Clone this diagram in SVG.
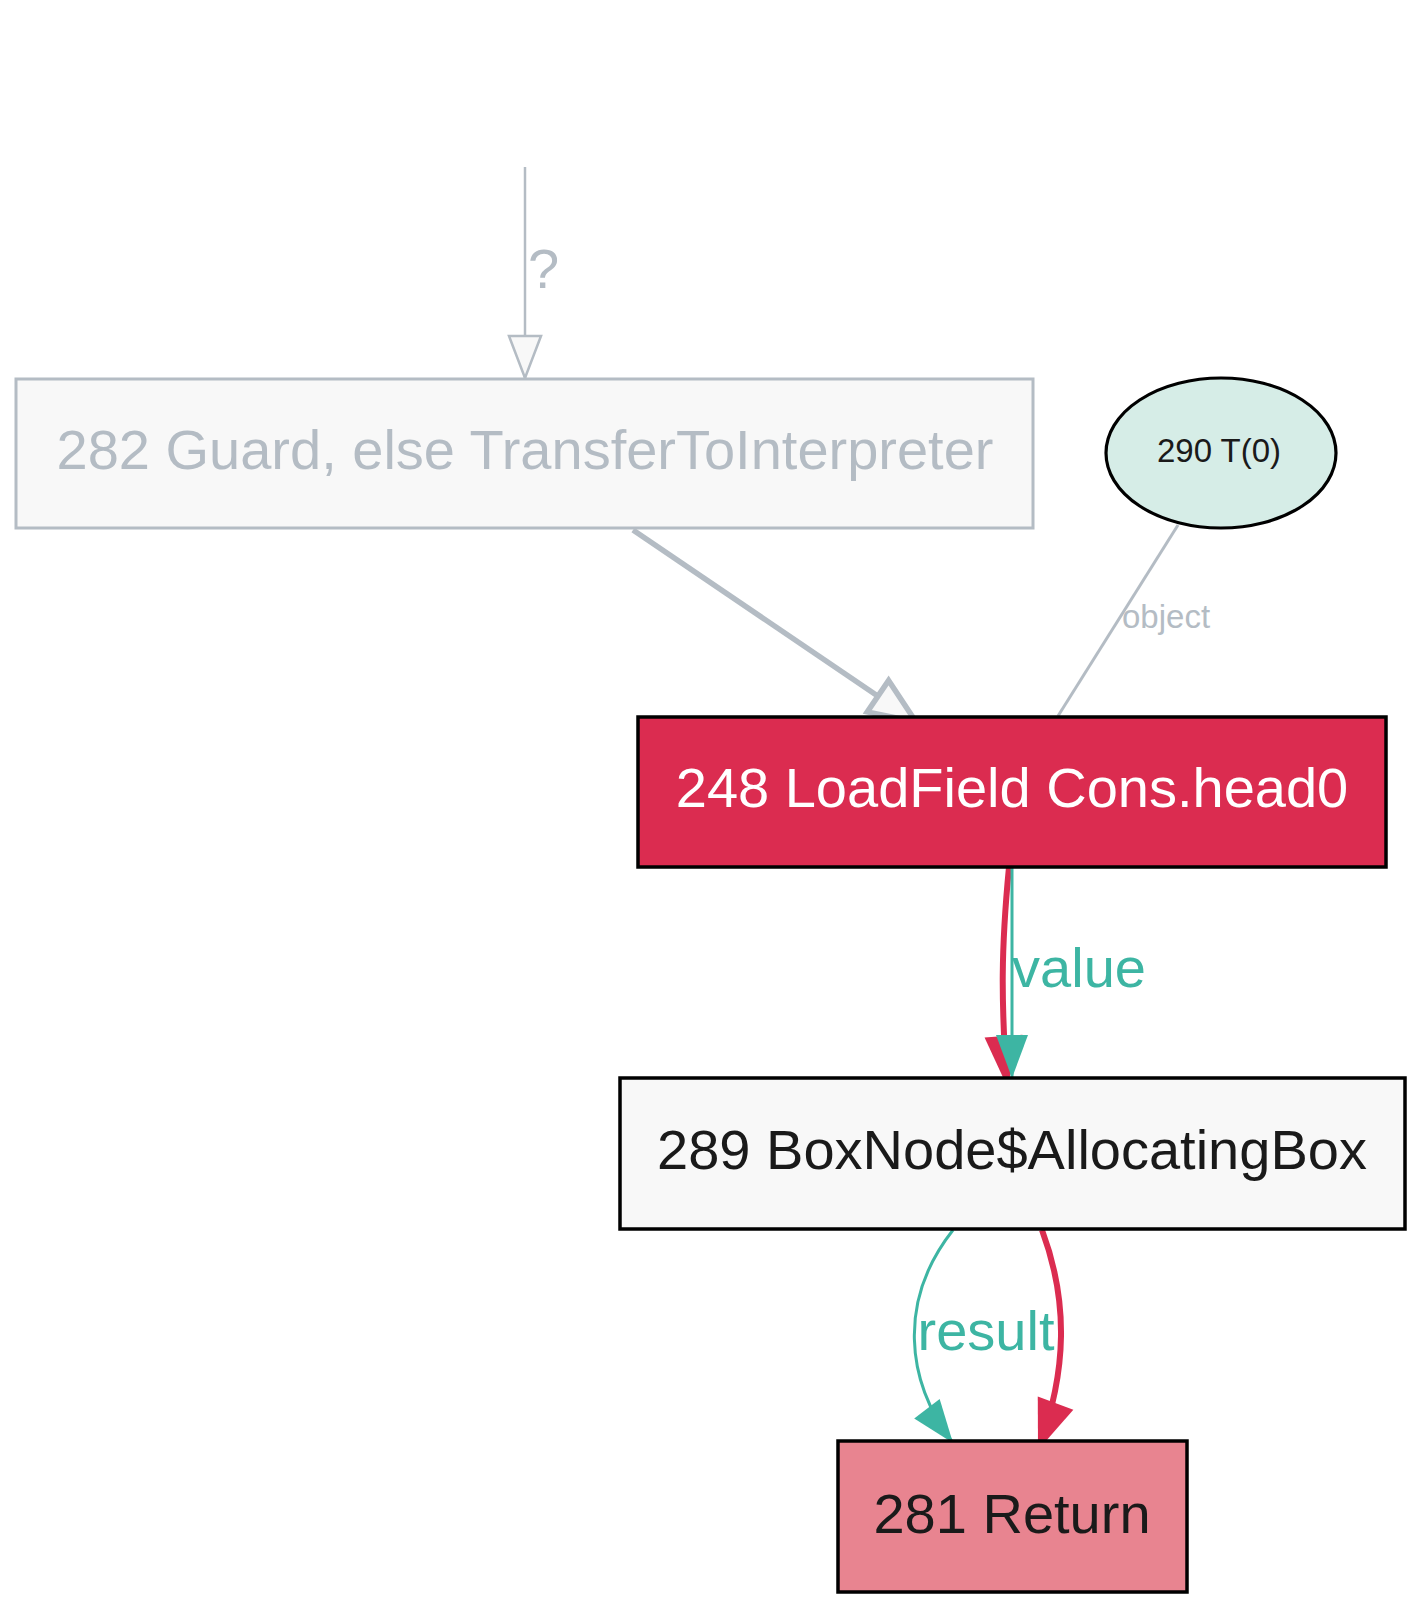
<svg xmlns="http://www.w3.org/2000/svg" width="1421" height="1608" viewBox="0 0 1421 1608">
<style>
.lbl{font-family:"Liberation Sans",Arial,sans-serif;font-size:56px;text-anchor:middle}
.mid{font-family:"Liberation Sans",Arial,sans-serif;font-size:33px}
.gray{stroke:#b4bcc4;fill:none}
.teal{stroke:#3db5a3;fill:none;stroke-width:3}
.red{stroke:#db2c50;fill:none;stroke-width:6}
.box{stroke:#000;stroke-width:3.5}
</style>
<defs>
<marker id="openS" markerUnits="userSpaceOnUse" markerWidth="50" markerHeight="40" refX="42" refY="16" orient="auto" overflow="visible">
<path d="M0,0 L42,16 L0,32 z" fill="#f8f8f8" stroke="#b4bcc4" stroke-width="2.5"/>
</marker>
<marker id="openL" markerUnits="userSpaceOnUse" markerWidth="60" markerHeight="50" refX="46" refY="19" orient="auto" overflow="visible">
<path d="M0,0 L46,19 L0,38 z" fill="#f8f8f8" stroke="#b4bcc4" stroke-width="5.5"/>
</marker>
<marker id="tealA" markerUnits="userSpaceOnUse" markerWidth="50" markerHeight="40" refX="43" refY="16" orient="auto" overflow="visible">
<path d="M0,0 L43,16 L0,32 z" fill="#3db5a3"/>
</marker>
<marker id="redA" markerUnits="userSpaceOnUse" markerWidth="60" markerHeight="50" refX="50" refY="19" orient="auto" overflow="visible">
<path d="M0,0 L50,19 L0,38 z" fill="#db2c50"/>
</marker>
</defs>
<rect width="1421" height="1608" fill="#ffffff"/>
<g id="connectors">
<g id="e-q">
<path class="gray" stroke-width="2.5" d="M525,167 L525,378" marker-end="url(#openS)"/>
<text class="lbl" x="528" y="288" fill="#b4bcc4" style="text-anchor:start">?</text>
</g>
<g id="e-guard-load">
<path class="gray" stroke-width="5.5" d="M633,530 L916,722" marker-end="url(#openL)"/>
</g>
<g id="e-obj">
<path class="gray" stroke-width="3" d="M1178,525 L1058,716"/>
<text class="mid" x="1122" y="628" fill="#b4bcc4">object</text>
</g>
<g id="e-value">
<path class="red" d="M1009,867 C1001,950 1001,1000 1007,1086" marker-end="url(#redA)"/>
<path class="teal" d="M1012,867 L1012,1078" marker-end="url(#tealA)"/>
<text class="lbl" x="1079" y="987" fill="#3db5a3">value</text>
</g>
<g id="e-result">
<path class="teal" d="M953,1230 C898,1300 905,1380 953,1443" marker-end="url(#tealA)"/>
<path class="red" d="M1042,1230 C1068,1300 1068,1370 1038,1450" marker-end="url(#redA)"/>
<text class="lbl" x="986" y="1350" fill="#3db5a3">result</text>
</g>
</g>
<g id="n282">
<rect x="16" y="379" width="1017" height="149" fill="#f8f8f8" stroke="#b4bcc4" stroke-width="3"/>
<text class="lbl" x="525" y="469" fill="#b4bcc4">282 Guard, else TransferToInterpreter</text>
</g>
<g id="n290">
<ellipse cx="1221" cy="453" rx="115" ry="75" fill="#d6ede7" stroke="#000" stroke-width="3.2"/>
<text x="1219" y="462" text-anchor="middle" fill="#1a1a1a" font-family="Liberation Sans, Arial, sans-serif" font-size="33">290 T(0)</text>
</g>
<g id="n248">
<rect class="box" x="638" y="717" width="748" height="150" fill="#db2c50"/>
<text class="lbl" x="1012" y="807" fill="#ffffff">248 LoadField Cons.head0</text>
</g>
<g id="n289">
<rect class="box" x="620" y="1078" width="785" height="151" fill="#f8f8f8"/>
<text class="lbl" x="1012" y="1169" fill="#1a1a1a">289 BoxNode$AllocatingBox</text>
</g>
<g id="n281">
<rect class="box" x="838" y="1441" width="349" height="151" fill="#e88490"/>
<text class="lbl" x="1012" y="1533" fill="#1a1a1a">281 Return</text>
</g>
</svg>
